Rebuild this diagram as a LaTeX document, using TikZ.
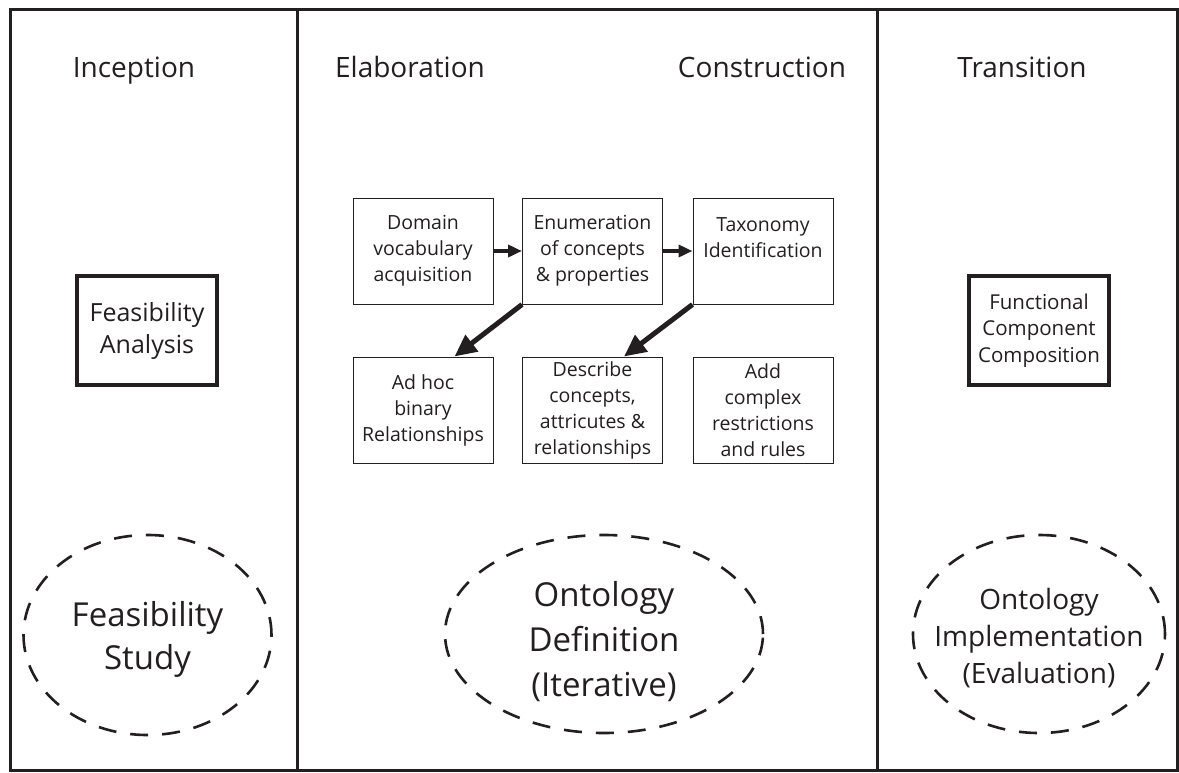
\documentclass[tikz,border=0pt]{standalone}
\usepackage{fontspec}
\setmainfont{Open Sans}
\usetikzlibrary{arrows.meta,calc,shapes.geometric}
\definecolor{ink}{HTML}{231F20}
\tikzset{
  frame/.style={draw=ink,line width=3pt},
  title/.style={text=ink,font=\fontsize{28}{30}\selectfont,anchor=base},
  stepbox/.style={draw=ink,line width=1pt,minimum width=140pt,minimum height=106pt,align=center,text=ink,inner sep=0pt,font=\fontsize{19.5}{26}\selectfont},
  thickbox/.style={draw=ink,line width=4pt,align=center,text=ink,inner sep=0pt},
  phase/.style={draw=ink,ellipse,dash pattern=on 18pt off 14pt,line width=2.6pt,inner sep=0pt},
  phasetext/.style={align=center,text=ink,inner sep=0pt},
  harrow/.style={draw=ink,line width=4pt,-{Triangle[length=14pt,width=12pt]}},
  darrow/.style={draw=ink,line width=5pt,-{Triangle[length=22pt,width=20pt]}},
}
\begin{document}
\begin{tikzpicture}[x=1pt,y=-1pt]
\useasboundingbox (0,0) rectangle (1179,772);
\fill[white] (0,0) rectangle (1179,772);
% frame and dividers
\draw[frame] (10,9.5) rectangle (1177,770);
\coordinate (d1t) at (297,9.5); \coordinate (d1b) at (297,770);
\coordinate (d2t) at (877,9.5); \coordinate (d2b) at (877,770);
\draw[frame] (d1t) -- (d1b);
\draw[frame] (d2t) -- (d2b);
% titles
\node[title] (tin) at (134,77) {Inception};
\node[title] (tel) at (410,77) {Elaboration};
\node[title] (tco) at (762,77) {Construction};
\node[title] (ttr) at (1022,77) {Transition};
% step boxes
\node[stepbox] (dom) at (423,251) {Domain\\vocabulary\\acquisition};
\node[stepbox] (enu) at (592.5,251) {Enumeration\\of concepts\\\& properties};
\node[stepbox] (tax) at (763,251) {Taxonomy\\Identification\\\mbox{}};
\node[stepbox] (adh) at (423,410) {Ad hoc\\binary\\Relationships};
\node[stepbox] (des) at (592.5,410) {Describe\\concepts,\\attricutes \&\\relationships};
\node[stepbox] (add) at (763,410) {Add\\complex\\restrictions\\and rules};
% arrows
\draw[harrow] (dom.east) -- (enu.west);
\draw[harrow] (enu.east) -- (tax.west);
\draw[darrow] (enu.south west) -- ([xshift=102pt]adh.north west);
\draw[darrow] (tax.south west) -- ([xshift=102pt]des.north west);
% thick boxes
\node[thickbox,minimum width=140pt,minimum height=109pt,font=\fontsize{25}{32}\selectfont] (fea) at (147,330.5) {Feasibility\\Analysis};
\node[thickbox,minimum width=140pt,minimum height=109pt,font=\fontsize{20.5}{26.5}\selectfont] (fcc) at (1039,330.5) {Functional\\Component\\Composition};
% ellipses
\node[phase,minimum width=248pt,minimum height=200pt] (fst) at (147.5,635) {};
\node[phasetext,font=\fontsize{33}{43}\selectfont] (fstt) at ([yshift=-4pt]fst.center) {Feasibility\\Study};
\node[phase,minimum width=318pt,minimum height=198pt] (odf) at (604,634) {};
\node[phasetext,font=\fontsize{33}{45}\selectfont] (odft) at ([yshift=-8pt]odf.center) {Ontology\\Definition\\(Iterative)};
\node[phase,minimum width=252pt,minimum height=198pt] (oim) at (1039,634) {};
\node[phasetext,font=\fontsize{28}{37}\selectfont] (oimt) at ([yshift=-4pt]oim.center) {Ontology\\Implementation\\(Evaluation)};
\end{tikzpicture}
\end{document}
